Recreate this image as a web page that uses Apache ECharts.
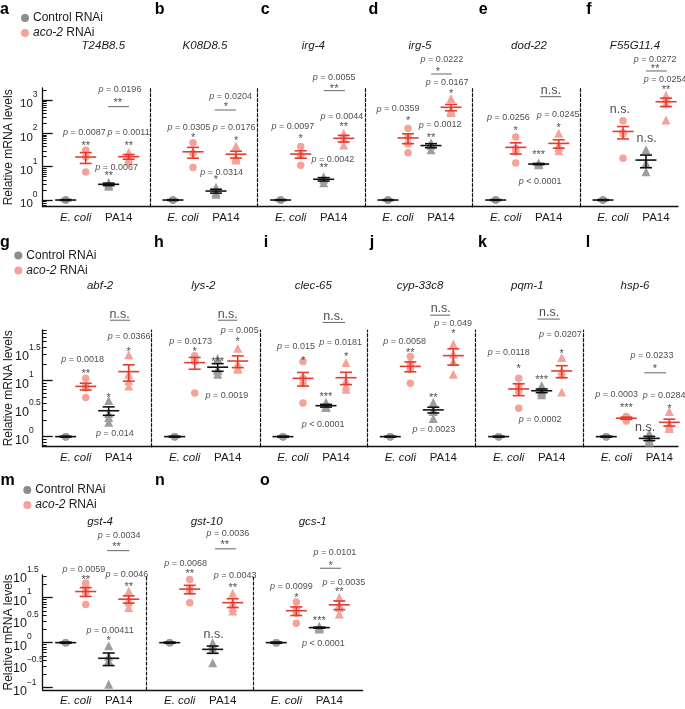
<!DOCTYPE html>
<html><head><meta charset="utf-8">
<script src="https://cdn.jsdelivr.net/npm/echarts@6/dist/echarts.min.js"></script>
<style>html,body{margin:0;padding:0;background:#fff}#c{width:685px;height:709px}</style>
</head><body><div id="c"></div><script>
// ---------------- DATA ----------------
const genes = ['T24B8.5','K08D8.5','irg-4','irg-5','dod-22','F55G11.4','abf-2','lys-2','clec-65','cyp-33c8','pqm-1','hsp-6','gst-4','gst-10','gcs-1'];
const panelLetters = ['a','b','c','d','e','f','g','h','i','j','k','l','m','n','o'];
const categories = ['E. coli','PA14'];
const seriesNames = ['Control RNAi','aco-2 RNAi'];
// y tick label exponents (10^x) per row
const yTickExpRow1 = [0,1,2,3];
const yTickExpRow2 = [0,0.5,1,1.5];
const yTickExpRow3 = [-1,-0.5,0,0.5,1,1.5];

// individual replicate values (relative mRNA level)
const ctrlEcoliPts = [[1,1,1],[1,1,1],[1,1,1],[1,1,1],[1,1,1],[1,1,1],[1,1,1],[1,1,1],[1,1,1],[1,1,1],[1,1,1],[1,1,1],[1,1,1],[1,1,1],[1,1,1]];
const aco2EcoliPts = [[31,19.5,6.9],[52,25,9.5],[40,22,11],[140,78,48,26],[78,35,28,13],[240,105,95,18],
  [11,8,7.5,5],[28,24,22,6],[22,11,9,4],[27,20,16,9],[11,8,6.5,3.2],[2.3,2.2,2.1,1.9],
  [21,17,13,7],[25,16,14,7.7],[8,5.5,4.5,2.7]];
const ctrlPA14Pts = [[3.4,2.9,2.6],[2.4,1.7,1.5],[5.0,4.2,3.3],[52,44,32],[13,12,11.5],[32,13,7],
  [4.4,2.6,2.2,1.8],[25,16,13,15],[4.1,3.5,3.3,3.4],[4.1,3.0,2.8,2.1],[8.2,6.5,6.2,5.6],[1.15,0.95,0.85,0.8],
  [0.85,0.5,0.4,0.12],[1.0,0.9,0.75,0.36],[2.3,2.2,2.1,2.0]];
const aco2PA14Pts = [[27,18,15],[42,19,18,16],[100,70,45],[1100,500,420,450],[100,45,38,30],[1400,1100,800,250],
  [29,13,10,8],[38,20,17,16],[21,10,8,7],[45,30,22,13],[26,15,13,6.3],[2.8,1.7,1.5,1.4],
  [14,9,8,6],[12.5,7.5,6,5],[10,7,6,4.3]];

// mean and SEM
const ctrlEcoliMean = [1,1,1,1,1,1,1,1,1,1,1,1,1,1,1];
const ctrlEcoliSem  = [0.03,0.03,0.03,0.03,0.03,0.03,0.02,0.02,0.02,0.02,0.02,0.02,0.03,0.03,0.03];
const aco2EcoliMean = [19.5,28,24,73,38,114,7.9,21,11,18,7.1,2.13,13.6,15.4,5.1];
const aco2EcoliSem  = [7,10,6,24,14,46,1.1,5,3,3.6,1.7,0.1,3,3.3,1.1];
const ctrlPA14Mean  = [2.96,1.86,4.2,43,12,15.8,2.9,17.4,3.57,3.0,6.6,0.93,0.45,0.71,2.15];
const ctrlPA14Sem   = [0.25,0.25,0.5,6,0.5,6.5,0.5,2.7,0.2,0.35,0.5,0.08,0.14,0.13,0.06];
const aco2PA14Mean  = [20,23.6,71,605,50,890,14.5,22.4,11.3,28,14.9,1.8,9.2,7.7,6.9];
const aco2PA14Sem   = [3.2,5.5,16,130,14,250,4.7,5.3,2.8,9,3.6,0.25,1.7,1.7,1.5];

// statistics text
const pAco2Ecoli = ['= 0.0087','= 0.0305','= 0.0097','= 0.0359','= 0.0256',null,'= 0.0018','= 0.0173','= 0.015','= 0.0058','= 0.0118','= 0.0003','= 0.0059','= 0.0068','= 0.0099'];
const sigAco2Ecoli = ['**','*','*','*','*','n.s.','**','*','*','**','*','***','**','**','*'];
const pCtrlPA14 = ['= 0.0067','= 0.0314','= 0.0042','= 0.0012','< 0.0001',null,'= 0.014','= 0.0019','< 0.0001','= 0.0023','= 0.0002',null,'= 0.00411',null,'< 0.0001'];
const sigCtrlPA14 = ['**','*','**','**','***','n.s.','*','***','***','**','***','n.s.','*','n.s.','***'];
const pAco2PA14 = ['= 0.0011','= 0.0176','= 0.0044','= 0.0167','= 0.0245','= 0.0254','= 0.0366','= 0.005','= 0.0181','= 0.049','= 0.0207','= 0.0284','= 0.0046','= 0.0043','= 0.0035'];
const sigAco2PA14 = ['**','*','**','*','*','**','*','*','*','*','*','*','**','**','**'];
const pBracket = ['= 0.0196','= 0.0204','= 0.0055','= 0.0222',null,'= 0.0272',null,null,null,null,null,'= 0.0233','= 0.0034','= 0.0036','= 0.0101'];
const sigBracket = ['**','*','**','*','n.s.','**','n.s.','n.s.','n.s.','n.s.','n.s.','*','**','**','*'];

// ---------------- LAYOUT ----------------
const F = '"Liberation Sans", Arial, Helvetica, sans-serif';
const TXT = '#1a1a1a';
const RED = '#e63b2e', PINK = '#f3a39a', GREY = '#9e9e9e', BLACK = '#111111';
const UNIT = 43, FIRST = 33, OFF = 0.233;
const groupX = [-OFF, OFF, 1 - OFF, 1 + OFF];
const rows = [
  {top:88, bottom:206.7, min:-0.2, max:3.36, lefts:[42.7,150,257.7,365,472.7,580], end:678, labels:yTickExpRow1, major:[0,1,2,3], labelMargin:22.7, labelFont:11.5, titleY:45.8, letterY:9.5, legendLeft:21, legendTop:12},
  {top:330, bottom:446.7, min:-0.18, max:1.905, lefts:[42.7,151.7,260,367.3,475.7,583.3], end:678, labels:yTickExpRow2, major:[0,1], labelMargin:27.7, labelFont:12.5, titleY:285.5, letterY:243, legendLeft:14.3, legendTop:249.5},
  {top:575, bottom:690, min:-1.05, max:1.5, lefts:[42.7,146.7,253.3], end:362.7, labels:yTickExpRow3, major:[-1,0,1], labelMargin:29.7, labelFont:12.5, titleY:522, letterY:481, legendLeft:23.3, legendTop:484}
];
const titleX = [103.3,205,313.3,420,529,635, 100,203.3,313.3,420,527.3,635, 100,206.7,312.7];
const letterX = [4.5,159.7,265.3,373.3,483.3,589, 5,159,266,372,482.5,588, 7.5,160,265];
// annotation anchors [pX, pY, sigX, sigY] in (category units, log10 units)
const annoAE = [[0.2,2.02,0.233,1.70],[0.135,2.17,0.233,1.95],[0.05,2.2,0.233,1.9],[0.0,2.73,0.233,2.45],[0.06,2.48,0.233,2.15],[null,null,0.16,2.7],
  [0.16,1.38,0.233,1.16],[0.14,1.7,0.233,1.55],[0.07,1.61,0.233,1.39],[0.1,1.7,0.233,1.54],[0.0,1.51,0.233,1.26],[0.01,0.76,0.233,0.55],
  [0.19,1.63,0.233,1.45],[0.14,1.75,0.233,1.58],[0.12,1.24,0.233,1.04]];
const annoCP = [[0.95,0.98,0.767,0.80],[0.9,0.83,0.767,0.67],[0.98,1.23,0.767,1.03],[0.98,2.25,0.767,1.95],[0.8,0.55,0.767,1.42],[null,null,0.78,1.85],
  [0.91,0.06,0.767,0.74],[0.98,0.73,0.767,1.37],[0.7,0.22,0.767,0.76],[0.78,0.12,0.767,0.74],[0.73,0.3,0.767,1.05],[null,null,0.67,0.17],
  [0.8,0.28,0.767,0.1],[null,null,0.79,0.17],[0.86,-0.01,0.767,0.54]];
const annoAP = [[1.23,2.02,1.233,1.71],[1.19,2.17,1.233,1.86],[1.19,2.5,1.233,2.28],[1.14,3.52,1.233,3.27],[1.22,2.55,1.233,2.25],[1.21,3.6,1.233,3.38],
  [1.24,1.79,1.233,1.55],[1.28,1.89,1.233,1.73],[1.11,1.69,1.233,1.46],[1.23,2.02,1.233,1.875],[1.2,1.82,1.233,1.53],[1.11,0.73,1.233,0.54],
  [1.19,1.52,1.233,1.28],[1.29,1.48,1.233,1.26],[1.34,1.34,1.233,1.17]];
// [pX, pY, sigX, sigY, lineY, x1, x2]
const annoBr = [[1.03,3.32,0.98,3.0,2.8,0.75,1.24],[1.11,3.1,1.0,2.88,2.7,0.74,1.23],[1.01,3.68,1.01,3.42,3.28,0.77,1.26],[1.02,4.2,0.93,3.92,3.78,0.77,1.25],[null,null,1.05,3.28,3.1,0.8,1.29],[0.98,4.2,0.98,4.0,3.87,0.77,1.25],
  [null,null,1.02,2.19,2.08,0.8,1.26],[null,null,1.0,2.19,2.08,0.77,1.22],[null,null,0.94,2.15,2.04,0.69,1.21],[null,null,0.94,2.28,2.17,0.69,1.16],[null,null,0.94,2.21,2.1,0.67,1.19],[0.83,1.45,0.9,1.25,1.14,0.65,1.16],
  [1.01,2.38,0.95,2.17,2.04,0.73,1.25],[1.12,2.43,1.05,2.22,2.08,0.82,1.31],[1.13,1.99,1.03,1.76,1.65,0.78,1.27]];

// ---------------- BUILD ----------------
const L = Math.log10;
const grid = [], xAxis = [], yAxis = [], series = [], legend = [], gEls = [];
const supFmt = v => {
  const e = Math.round(v * 10) / 10;
  const s = (e < 0 ? '\u2212' : '') + Math.abs(e);
  return '{b|10}{s|' + s + '}';
};
const richTxt = {
  p:  {fontSize: 9, fontStyle: 'italic', fontFamily: F, color: TXT},
  t:  {fontSize: 9, fontFamily: F, color: TXT},
  st: {fontSize: 11, fontFamily: F, color: TXT},
  ns: {fontSize: 12.5, fontFamily: F, color: TXT}
};
let panel = 0;
rows.forEach((row, r) => {
  const dpx = (row.bottom - row.top) / (row.max - row.min);
  const minor = [];
  for (let n = Math.floor(row.min); n <= Math.ceil(row.max); n++)
    for (let k = 2; k <= 9; k++) { const v = n + L(k); if (v > row.min && v < row.max) minor.push(v); }
  legend.push({
    left: row.legendLeft, top: row.legendTop, orient: 'vertical', padding: 0, itemGap: 3,
    itemWidth: 8, itemHeight: 8, selectedMode: false,
    data: [{name: seriesNames[0], icon: 'circle', itemStyle: {color: '#8c8c8c'}},
           {name: seriesNames[1], icon: 'circle', itemStyle: {color: PINK}}],
    formatter: n => n === seriesNames[1] ? '{i|aco-2} RNAi' : n,
    textStyle: {fontSize: 12, fontFamily: F, color: TXT, padding: [0,0,0,-1],
      rich: {i: {fontSize: 12, fontFamily: F, fontStyle: 'italic', color: TXT}}}
  });
  row.lefts.forEach((left, c) => {
    const p = panel++;
    const right = c < row.lefts.length - 1 ? row.lefts[c + 1] : row.end;
    const w = right - left;
    const gi = grid.length;
    grid.push({left: left, top: row.top, width: w, height: row.bottom - row.top, containLabel: false, outerBoundsMode: 'none'});
    const xi = xAxis.length;
    xAxis.push({
      gridIndex: gi, type: 'value', min: -FIRST / UNIT, max: (w - FIRST) / UNIT,
      axisLine: {show: true, onZero: false, lineStyle: {color: BLACK, width: 1.3}},
      axisTick: {show: false}, splitLine: {show: false},
      axisLabel: {customValues: [0, 1], margin: 5, fontSize: 11.5, fontFamily: F, color: TXT,
        formatter: v => v < 0.5 ? '{i|' + categories[0] + '}' : categories[1],
        rich: {i: {fontSize: 11.5, fontFamily: F, fontStyle: 'italic', color: TXT}}}
    });
    const yi = yAxis.length;
    if (c === 0) {
      yAxis.push({
        gridIndex: gi, type: 'value', min: row.min, max: row.max, position: 'left',
        name: 'Relative mRNA levels', nameLocation: 'middle', nameGap: 28, nameMoveOverlap: false,
        nameTextStyle: {fontSize: 12, fontFamily: F, color: TXT},
        axisLine: {show: true, onZero: false, lineStyle: {color: BLACK, width: 1.3}},
        axisTick: {show: true, inside: true, length: 10, customValues: row.major, lineStyle: {color: BLACK, width: 1.3}},
        splitLine: {show: false},
        axisLabel: {customValues: row.labels, margin: row.labelMargin, align: 'left', formatter: supFmt,
          rich: {b: {fontSize: row.labelFont, fontFamily: F, color: TXT, lineHeight: 20, verticalAlign: 'bottom'},
                 s: {fontSize: 8.5, fontFamily: F, color: TXT, lineHeight: 9, verticalAlign: 'top'}}}
      });
      yAxis.push({
        gridIndex: gi, type: 'value', min: row.min, max: row.max, position: 'left',
        axisLine: {show: false, onZero: false}, splitLine: {show: false}, axisLabel: {show: false},
        axisTick: {show: true, inside: true, length: 4, customValues: minor, lineStyle: {color: BLACK, width: 1}}
      });
    } else {
      yAxis.push({
        gridIndex: gi, type: 'value', min: row.min, max: row.max, position: 'left',
        axisLine: {show: true, onZero: false, lineStyle: {color: BLACK, width: 1.2, type: [3, 2]}},
        axisTick: {show: false}, axisLabel: {show: false}, splitLine: {show: false}
      });
    }
    // points
    const groups = [
      [ctrlEcoliPts[p], 0, 'circle', GREY, 7.5],
      [aco2EcoliPts[p], 1, 'circle', PINK, 7.5],
      [ctrlPA14Pts[p], 0, 'triangle', GREY, 9],
      [aco2PA14Pts[p], 1, 'triangle', PINK, 9]
    ];
    groups.forEach((g, gIdx) => {
      series.push({
        type: 'scatter', name: seriesNames[g[1]], xAxisIndex: xi, yAxisIndex: yi,
        symbol: g[2], symbolSize: g[4], itemStyle: {color: g[3], opacity: 1}, z: 2, silent: true,
        data: g[0].map(v => [groupX[gIdx], L(v)])
      });
    });
    // mean +/- SEM
    const ms = [[ctrlEcoliMean, ctrlEcoliSem, 0], [aco2EcoliMean, aco2EcoliSem, 1], [ctrlPA14Mean, ctrlPA14Sem, 0], [aco2PA14Mean, aco2PA14Sem, 1]];
    series.push({
      type: 'custom', xAxisIndex: xi, yAxisIndex: yi, z: 3, silent: true, clip: false,
      data: ms.map((m, gIdx) => [groupX[gIdx], L(m[0][p]), L(m[0][p] - m[1][p]), L(m[0][p] + m[1][p]), m[2]]),
      encode: {x: 0, y: 1},
      renderItem: (params, api) => {
        const x = api.value(0);
        const pm = api.coord([x, api.value(1)]), pl = api.coord([x, api.value(2)]), ph = api.coord([x, api.value(3)]);
        const st = {stroke: api.value(4) ? RED : BLACK, lineWidth: 1.6};
        return {type: 'group', children: [
          {type: 'line', shape: {x1: pm[0] - 10.5, y1: pm[1], x2: pm[0] + 10.5, y2: pm[1]}, style: st},
          {type: 'line', shape: {x1: pl[0], y1: pl[1], x2: ph[0], y2: ph[1]}, style: st},
          {type: 'line', shape: {x1: pl[0] - 6, y1: pl[1], x2: pl[0] + 6, y2: pl[1]}, style: st},
          {type: 'line', shape: {x1: ph[0] - 6, y1: ph[1], x2: ph[0] + 6, y2: ph[1]}, style: st}
        ]};
      }
    });
    // annotation texts
    const items = [];
    const addSig = (sig, x, y) => {
      if (sig === 'n.s.') items.push({value: [x, y], t: '{ns|n.s.}'});
      else items.push({value: [x, y - 2.5 / dpx], t: '{st|' + sig + '}'});
    };
    const addP = (s, x, y) => { if (s) items.push({value: [x, y], t: '{p|p}{t| ' + s + '}'}); };
    [[annoAE, pAco2Ecoli, sigAco2Ecoli], [annoCP, pCtrlPA14, sigCtrlPA14], [annoAP, pAco2PA14, sigAco2PA14]].forEach(a => {
      const pos = a[0][p];
      addP(a[1][p], pos[0], pos[1]);
      addSig(a[2][p], pos[2], pos[3]);
    });
    const br = annoBr[p];
    addP(pBracket[p], br[0], br[1]);
    addSig(sigBracket[p], br[2], br[3]);
    series.push({
      type: 'scatter', xAxisIndex: xi, yAxisIndex: yi, z: 4, silent: true, symbolSize: 1,
      itemStyle: {color: 'rgba(0,0,0,0)'}, clip: false,
      data: items.map(it => it.value),
      label: {show: true, position: 'inside', formatter: prm => items[prm.dataIndex].t, rich: richTxt}
    });
    series.push({
      type: 'custom', xAxisIndex: xi, yAxisIndex: yi, z: 4, silent: true, clip: false,
      data: [[br[5], br[4], br[6]]], encode: {x: 0, y: 1},
      renderItem: (params, api) => {
        const a = api.coord([api.value(0), api.value(1)]), b = api.coord([api.value(2), api.value(1)]);
        return {type: 'line', shape: {x1: a[0], y1: a[1], x2: b[0], y2: b[1]}, style: {stroke: '#666', lineWidth: 1}};
      }
    });
    gEls.push({type: 'text', x: titleX[p], y: row.titleY, silent: true,
      style: {text: genes[p], font: 'italic 11.5px ' + F, fill: TXT, textAlign: 'center', textVerticalAlign: 'middle', align: 'center', verticalAlign: 'middle'}});
    gEls.push({type: 'text', x: letterX[p], y: row.letterY, silent: true,
      style: {text: panelLetters[p], font: 'bold 16px ' + F, fill: '#000', textAlign: 'center', textVerticalAlign: 'middle', align: 'center', verticalAlign: 'middle'}});
  });
});

const chart = echarts.init(document.getElementById('c'), null, {renderer: 'canvas'});
chart.setOption({
  animation: false, backgroundColor: '#fff',
  grid, xAxis, yAxis, series, legend,
  graphic: {elements: gEls}
});
</script></body></html>
